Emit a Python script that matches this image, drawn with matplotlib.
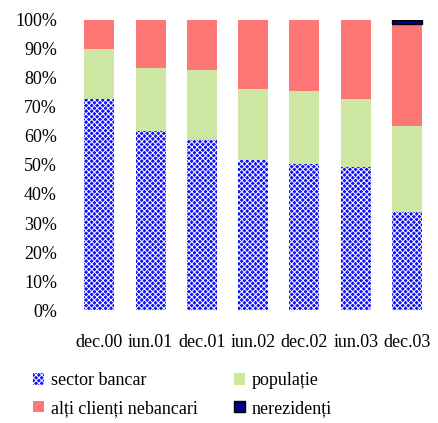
import numpy as np
import matplotlib
matplotlib.use("Agg")
from matplotlib import pyplot as plt, ticker
from matplotlib.patches import Patch

plt.rcParams['font.family'] = ['Liberation Serif', 'DejaVu Serif']
plt.rcParams['hatch.linewidth'] = 0.7

periods = ["dec.00", "iun.01", "dec.01", "iun.02", "dec.02", "iun.03", "dec.03"]
sector_bancar = [72.8, 61.7, 58.6, 51.7, 50.3, 49.3, 33.9]
populatie = [17.2, 21.7, 24.2, 24.5, 25.2, 23.5, 29.5]
alti_clienti = [10.0, 16.6, 17.2, 23.8, 24.5, 27.2, 35.2]
nerezidenti = [0.0, 0.0, 0.0, 0.0, 0.0, 0.0, 1.4]

series = [
    ("sector bancar", sector_bancar, dict(facecolor="#1010ff", edgecolor="white", hatch="xxxxxx", linewidth=0)),
    ("populație", populatie, dict(facecolor="#cde6a2", edgecolor="#cde6a2", linewidth=0)),
    ("alți clienți nebancari", alti_clienti, dict(facecolor="#ff7676", edgecolor="#ff7676", linewidth=0)),
    ("nerezidenți", nerezidenti, dict(facecolor="#000080", edgecolor="black", linewidth=1)),
]

fig = plt.figure(figsize=(4.38, 4.23), dpi=100)
ax = fig.add_axes([0.168, 0.267, 0.82, 0.686])

x = np.arange(len(periods))
bottom = np.zeros(len(periods))
handles = []
for name, vals, style in series:
    vals = np.array(vals)
    shown = vals > 0
    ax.bar(x[shown], vals[shown], 0.585, bottom=bottom[shown], **style)
    bottom += vals
    handles.append(Patch(label=name, **style))

ax.set_xlim(-0.5, len(periods) - 0.5)
ax.set_ylim(0, 100)
ax.yaxis.set_major_locator(ticker.MultipleLocator(10))
ax.yaxis.set_major_formatter(ticker.FuncFormatter(lambda v, p: "%d%%" % v))
ax.set_xticks(x)
ax.set_xticklabels(periods)
ax.tick_params(axis="both", length=0, labelsize=13)
ax.tick_params(axis="y", pad=12)
ax.tick_params(axis="x", pad=17)
for s in ax.spines.values():
    s.set_visible(False)

fig.legend(handles=[handles[0], handles[2], handles[1], handles[3]],
           ncol=2, loc="upper left", bbox_to_anchor=(0.075, 0.12),
           frameon=False, fontsize=13, handlelength=0.6, handleheight=0.6,
           handletextpad=0.4, columnspacing=2.0, labelspacing=0.6,
           borderaxespad=0, borderpad=0)

fig.savefig("out.png", dpi=100)
